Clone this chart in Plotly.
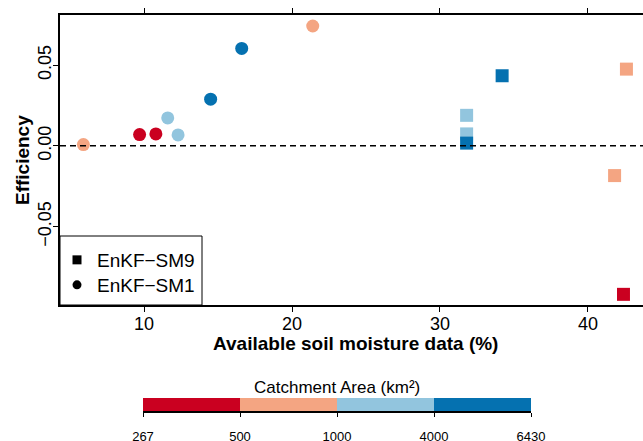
import plotly.graph_objects as go

# Catchment-area classes and their colours
area_classes = ["267-500", "500-1000", "1000-4000", "4000-6430"]
class_colors = ["#CA0020", "#F4A582", "#92C5DE", "#0571B0"]
bar_tick_labels = ["267", "500", "1000", "4000", "6430"]

# EnKF-SM1 (circles)
sm1_data_pct = [5.9, 9.7, 10.8, 11.6, 12.3, 14.5, 16.6, 21.4]
sm1_efficiency = [0.0008, 0.0070, 0.0074, 0.0173, 0.0068, 0.0289, 0.0603, 0.0742]
sm1_class = ["500-1000", "267-500", "267-500", "1000-4000", "1000-4000",
             "4000-6430", "4000-6430", "500-1000"]

# EnKF-SM9 (squares)
sm9_data_pct = [31.8, 31.8, 31.8, 34.2, 42.6, 41.8, 42.4]
sm9_efficiency = [0.0189, 0.0074, 0.0017, 0.0434, 0.0475, -0.0184, -0.0919]
sm9_class = ["1000-4000", "1000-4000", "4000-6430", "4000-6430",
             "500-1000", "500-1000", "267-500"]

color_of = dict(zip(area_classes, class_colors))
FONT = "Liberation Sans, Arial, sans-serif"

fig = go.Figure()

fig.add_trace(go.Scatter(
    x=sm1_data_pct, y=sm1_efficiency, mode="markers", showlegend=False,
    marker=dict(symbol="circle", size=13, color=[color_of[c] for c in sm1_class],
                line=dict(width=0)),
))
fig.add_trace(go.Scatter(
    x=sm9_data_pct, y=sm9_efficiency, mode="markers", showlegend=False,
    marker=dict(symbol="square", size=13, color=[color_of[c] for c in sm9_class],
                line=dict(width=0)),
))

# Legend entries (small black symbols), one legend row each
fig.add_trace(go.Scatter(x=[None], y=[None], mode="markers", name="EnKF\u2212SM9",
                         legend="legend",
                         marker=dict(symbol="square", size=9, color="black")))
fig.add_trace(go.Scatter(x=[None], y=[None], mode="markers", name="EnKF\u2212SM1",
                         legend="legend2",
                         marker=dict(symbol="circle", size=9, color="black")))

# Catchment-area colour bar
fig.add_trace(go.Heatmap(
    z=[list(range(len(area_classes)))], x=[0.5, 1.5, 2.5, 3.5], y=[0],
    zmin=-0.5, zmax=3.5, showscale=False, hoverinfo="skip",
    colorscale=[[0, class_colors[0]], [0.25, class_colors[0]],
                [0.25, class_colors[1]], [0.5, class_colors[1]],
                [0.5, class_colors[2]], [0.75, class_colors[2]],
                [0.75, class_colors[3]], [1, class_colors[3]]],
    xaxis="x2", yaxis="y2",
))

W, H = 643, 441
px = lambda v: v / W
py = lambda v: 1 - v / H

legend_style = dict(xanchor="left", yanchor="top", bgcolor="rgba(0,0,0,0)",
                    borderwidth=0, font=dict(size=19), itemwidth=30)

fig.update_layout(
    template="none",
    width=W, height=H,
    margin=dict(l=0, r=0, t=0, b=0, pad=0, autoexpand=False),
    paper_bgcolor="white", plot_bgcolor="white",
    font=dict(family=FONT, size=18, color="black"),
    xaxis=dict(
        domain=[px(60), 1.0], range=[4.32, 43.72], automargin=False,
        tickvals=[10, 20, 30, 40], ticks="outside", ticklen=5, tickwidth=1,
        tickcolor="black", showline=True, linecolor="black", linewidth=1.5,
        mirror="ticks", showgrid=False, zeroline=False,
        tickfont=dict(size=18), ticklabelstandoff=-3,
    ),
    yaxis=dict(
        domain=[py(305), py(15)], range=[-0.0985, 0.081], automargin=False,
        tickvals=[-0.05, 0.0, 0.05], ticktext=["\u22120.05", "0.00", "0.05"],
        ticks="outside", ticklen=5, tickwidth=1, tickcolor="black",
        tickangle=-90, showline=True, linecolor="black", linewidth=1.5,
        showgrid=False, zeroline=False, tickfont=dict(size=18),
        ticklabelstandoff=-5,
    ),
    xaxis2=dict(
        domain=[px(143), px(531)], range=[0, 4], anchor="y2", automargin=False,
        tickvals=[0, 1, 2, 3, 4], ticktext=bar_tick_labels,
        ticks="outside", ticklen=4, tickwidth=1, tickcolor="black",
        showline=True, linecolor="black", linewidth=1.5,
        showgrid=False, zeroline=False, tickfont=dict(size=13),
        ticklabelstandoff=9, fixedrange=True,
    ),
    yaxis2=dict(
        domain=[py(411), py(398)], range=[-0.5, 0.5], anchor="x2",
        visible=False, fixedrange=True, automargin=False,
    ),
    showlegend=True,
    legend=dict(x=px(57), y=py(241), **legend_style),
    legend2=dict(x=px(57), y=py(266), **legend_style),
    shapes=[
        # reference line at zero efficiency
        dict(type="line", xref="x domain", yref="y", x0=0, x1=1, y0=0, y1=0,
             line=dict(color="black", width=1.5, dash="6px,4px"), layer="above"),
        # legend frame
        dict(type="rect", xref="paper", yref="paper",
             x0=px(60), x1=px(202), y0=py(305), y1=py(236),
             line=dict(color="black", width=1), fillcolor="white", layer="above"),
    ],
    annotations=[
        dict(text="<b>Available soil moisture data (%)</b>", xref="paper", yref="paper",
             x=px(355), y=py(343), xanchor="center", yanchor="middle",
             showarrow=False, font=dict(size=19)),
        dict(text="<b>Efficiency</b>", xref="paper", yref="paper",
             x=px(22), y=py(160), xanchor="center", yanchor="middle",
             textangle=-90, showarrow=False, font=dict(size=19)),
        dict(text="Catchment Area (km\u00b2)", xref="paper", yref="paper",
             x=px(337), y=py(387), xanchor="center", yanchor="middle",
             showarrow=False, font=dict(size=17)),
    ],
)

fig.write_html("out.html")
